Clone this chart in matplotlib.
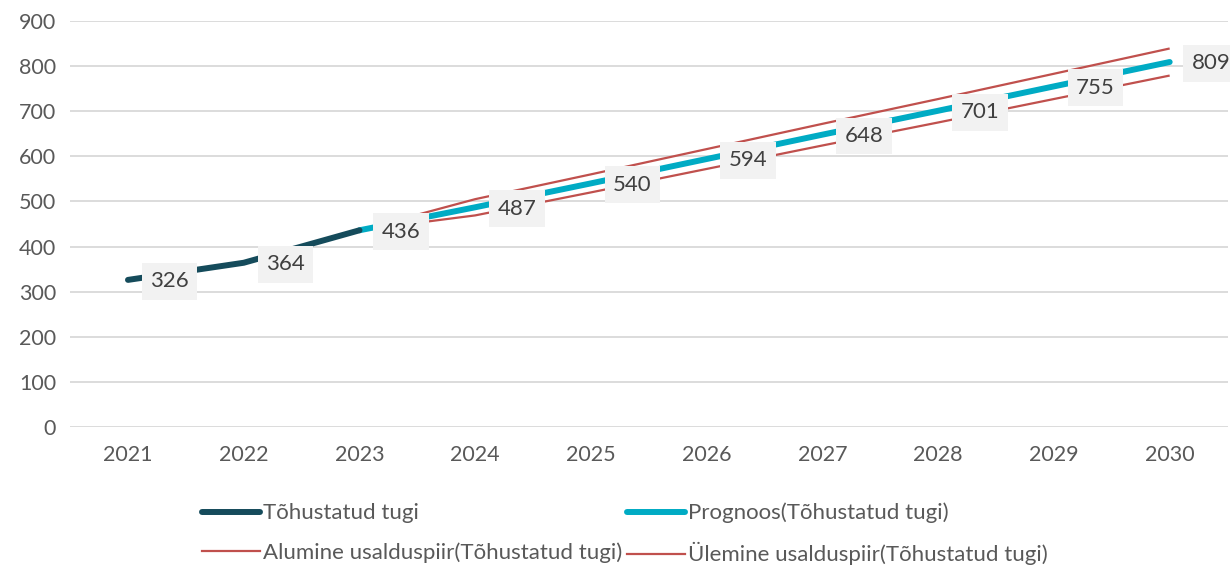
import matplotlib.pyplot as plt

plt.rcParams['font.family'] = ['Lato', 'DejaVu Sans']

years = ['2021', '2022', '2023', '2024', '2025', '2026', '2027', '2028', '2029', '2030']
actual = [326, 364, 436]
forecast = [436, 487, 540, 594, 648, 701, 755, 809]
lower = [436, 469, 520, 572, 624, 675, 727, 779]
upper = [436, 505, 560, 616, 672, 727, 783, 839]

c_actual = '#154B5B'
c_fc = '#00ABC4'
c_bound = '#C0504D'

fig = plt.figure(figsize=(12.3, 5.67), dpi=100)
ax = fig.add_axes([0.057, 0.247, 0.941, 0.716])

x_act = list(range(len(actual)))
x_fc = list(range(2, 2 + len(forecast)))

ax.plot(x_fc, lower, color=c_bound, lw=1.6, solid_capstyle='butt', zorder=2)
ax.plot(x_fc, upper, color=c_bound, lw=1.6, solid_capstyle='butt', zorder=2)
ax.plot(x_fc, forecast, color=c_fc, lw=4.3, solid_capstyle='round', zorder=3)
ax.plot(x_act, actual, color=c_actual, lw=4.3, solid_capstyle='round', zorder=4)

# andmesildid
labels = actual[:2] + forecast
for i, v in enumerate(labels):
    ax.annotate(str(v), (i, v), xytext=(16, -1), textcoords='offset points',
                ha='left', va='center', fontsize=16, color='#404040', zorder=5,
                bbox=dict(boxstyle='square,pad=0.38', fc='#F2F2F2', ec='none'))

ax.set_xlim(-0.5, len(years) - 0.5)
ax.set_ylim(0, 900)
ax.set_yticks(range(0, 901, 100))
ax.set_xticks(range(len(years)))
ax.set_xticklabels(years)
ax.grid(axis='y', color='#D9D9D9', lw=1.3)
ax.set_axisbelow(True)
for s in ax.spines.values():
    s.set_visible(False)
ax.tick_params(length=0, labelsize=15.5, colors='#595959')
ax.tick_params(axis='x', pad=13)
ax.tick_params(axis='y', pad=10)

handles = [
    plt.Line2D([], [], color=c_actual, lw=4.3, solid_capstyle='round'),
    plt.Line2D([], [], color=c_bound, lw=1.6),
    plt.Line2D([], [], color=c_fc, lw=4.3, solid_capstyle='round'),
    plt.Line2D([], [], color=c_bound, lw=1.6),
]
names = ['Tõhustatud tugi', 'Alumine usalduspiir(Tõhustatud tugi)',
         'Prognoos(Tõhustatud tugi)', 'Ülemine usalduspiir(Tõhustatud tugi)']
leg = fig.legend(handles, names, ncol=2, loc='center', bbox_to_anchor=(0.508, 0.058),
                 frameon=False, fontsize=16, handlelength=2.6, handletextpad=0.12,
                 columnspacing=0.25, labelspacing=0.85)
for t in leg.get_texts():
    t.set_color('#595959')

plt.savefig('out.png', dpi=100)
